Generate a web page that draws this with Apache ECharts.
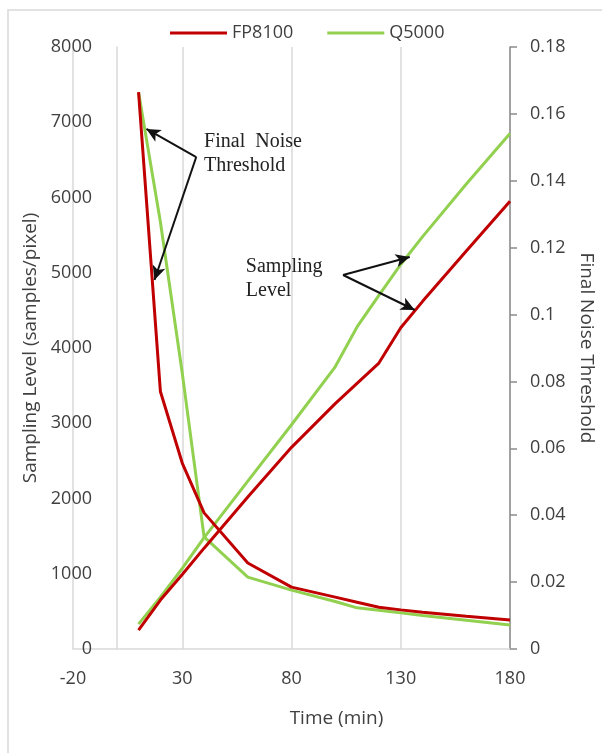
<!DOCTYPE html>
<html>
<head>
<meta charset="utf-8">
<script src="https://cdn.jsdelivr.net/npm/echarts@6/dist/echarts.min.js"></script>
<style>
  html, body { margin: 0; padding: 0; background: #ffffff; }
  #chart { width: 602px; height: 753px; }
</style>
</head>
<body>
<div id="chart"></div>
<script>
// Elapsed render time (min)
const times = [10, 20, 30, 40, 60, 80, 100, 110, 120, 130, 140, 160, 180];

// Sampling level (samples/pixel), left axis
const fpSampling = [252, 650, 990, 1340, 2020, 2680, 3260, 3530, 3800, 4270, 4620, 5290, 5950];
const qSampling  = [330, 690, 1070, 1480, 2230, 2980, 3750, 4280, 4700, 5110, 5480, 6180, 6850];

// Final noise threshold, right axis
const fpNoise = [0.1665, 0.077, 0.0556, 0.0407, 0.0257, 0.0185, 0.0155, 0.014, 0.0125, 0.0117, 0.011, 0.0098, 0.0087];
const qNoise  = [0.1665, 0.1277, 0.0825, 0.0335, 0.0215, 0.0176, 0.0142, 0.0123, 0.0116, 0.0108, 0.0100, 0.0086, 0.0072];

const seriesNames = ['FP8100', 'Q5000'];
const RED = '#c00000';
const GREEN = '#92d050';
const TEXT = '#404040';
const FONT = "'Open Sans', sans-serif";

// Callout notes, anchored in (time, sampling level) coordinates
const noiseNote = { text: 'Final  Noise\nThreshold', at: [40, 6897] };
const noiseArrowFrom = [36.4, 6538];
const noiseArrowTo = [[13.6, 6911], [17.3, 4904]];
const samplingNote = { text: 'Sampling\nLevel', at: [59.1, 5236] };
const samplingArrowFrom = [103.6, 4970];
const samplingArrowTo = [[134.1, 5209], [136.4, 4505]];

const pairs = (xs, ys) => xs.map((x, i) => [x, ys[i]]);

const arrowLines = [];
noiseArrowTo.forEach(p => arrowLines.push([{ coord: noiseArrowFrom }, { coord: p }]));
samplingArrowTo.forEach(p => arrowLines.push([{ coord: samplingArrowFrom }, { coord: p }]));

const lineSeries = (name, data, color, yAxisIndex, extra) => Object.assign({
  name: name,
  type: 'line',
  yAxisIndex: yAxisIndex,
  data: data,
  showSymbol: false,
  symbol: 'none',
  lineStyle: { color: color, width: 3 },
  itemStyle: { color: color },
  emphasis: { disabled: true },
  animation: false
}, extra || {});

const chart = echarts.init(document.getElementById('chart'), null, { renderer: 'canvas' });

chart.setOption({
  backgroundColor: '#ffffff',
  animation: false,
  textStyle: { fontFamily: FONT },
  grid: { left: 73, right: 92, top: 47, bottom: 104, containLabel: false, outerBoundsMode: 'none' },
  legend: {
    data: seriesNames.map(n => ({ name: n, icon: 'rect' })),
    left: 165,
    top: 19,
    itemWidth: 57,
    itemHeight: 3,
    itemGap: 34,
    textStyle: { fontSize: 18, color: TEXT, fontFamily: FONT }
  },
  xAxis: {
    type: 'value',
    min: -20,
    max: 180,
    interval: 50,
    name: 'Time (min)',
    nameLocation: 'middle',
    nameGap: 60,
    nameTextStyle: { fontSize: 19, color: TEXT, fontFamily: FONT, padding: [0, 0, 0, 90] },
    axisLine: { show: true, lineStyle: { color: '#d9d9d9', width: 1.5 } },
    axisTick: { show: false },
    axisLabel: { fontSize: 18, color: TEXT, margin: 21, fontFamily: FONT },
    splitLine: { show: true, lineStyle: { color: '#d9d9d9', width: 1.5 } }
  },
  yAxis: [
    {
      type: 'value',
      min: 0,
      max: 8000,
      interval: 1000,
      name: 'Sampling Level (samples/pixel)',
      nameLocation: 'middle',
      nameGap: 30,
      nameTextStyle: { fontSize: 19, color: TEXT, fontFamily: FONT },
      axisLine: { show: true, onZero: true, lineStyle: { color: '#d9d9d9', width: 1.5 } },
      axisTick: { show: false },
      axisLabel: { fontSize: 18, color: TEXT, margin: -19, fontFamily: FONT, formatter: v => String(v) },
      splitLine: { show: false }
    },
    {
      type: 'value',
      min: 0,
      max: 0.18,
      interval: 0.02,
      position: 'right',
      name: 'Final Noise Threshold',
      nameLocation: 'middle',
      nameRotate: -90,
      nameGap: 58,
      nameTextStyle: { fontSize: 19, color: TEXT, fontFamily: FONT },
      axisLine: { show: true, onZero: false, lineStyle: { color: '#8c8c8c', width: 1.5 } },
      axisTick: { show: true, inside: false, length: 7, lineStyle: { color: '#8c8c8c', width: 1.5 } },
      axisLabel: {
        fontSize: 18, color: TEXT, margin: 20, fontFamily: FONT,
        formatter: v => String(+v.toFixed(2))
      },
      splitLine: { show: false }
    }
  ],
  series: [
    lineSeries(seriesNames[1], pairs(times, qSampling), GREEN, 0),
    lineSeries(seriesNames[1], pairs(times, qNoise), GREEN, 1),
    lineSeries(seriesNames[0], pairs(times, fpNoise), RED, 1),
    lineSeries(seriesNames[0], pairs(times, fpSampling), RED, 0, {
      markLine: {
        silent: true,
        animation: false,
        symbol: ['none', 'arrow'],
        symbolSize: [10, 14],
        label: { show: false },
        lineStyle: { color: '#111111', width: 2, type: 'solid' },
        emphasis: { disabled: true },
        data: arrowLines
      }
    })
  ]
});

// Callout texts and frame, placed through the chart's own coordinate conversion
const toPx = p => chart.convertToPixel({ xAxisIndex: 0, yAxisIndex: 0 }, p);
const noteText = note => {
  const p = toPx(note.at);
  return {
    type: 'text',
    x: p[0],
    y: p[1],
    silent: true,
    style: {
      text: note.text,
      fontFamily: "'Liberation Serif', 'Times New Roman', serif",
      fontSize: 20,
      lineHeight: 24,
      fill: '#222222',
      align: 'left',
      verticalAlign: 'top'
    }
  };
};

chart.setOption({
  graphic: [
    {
      type: 'rect',
      silent: true,
      shape: { x: 8, y: 10, width: 700, height: 800 },
      style: { fill: 'none', stroke: '#d9d9d9', lineWidth: 1.5 }
    },
    noteText(noiseNote),
    noteText(samplingNote)
  ]
});
</script>
</body>
</html>
